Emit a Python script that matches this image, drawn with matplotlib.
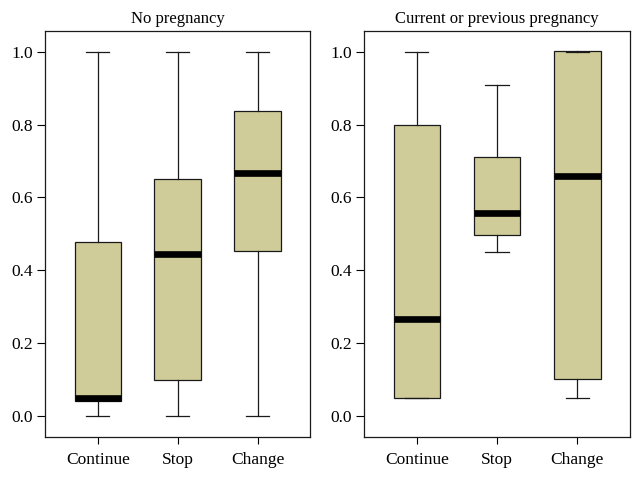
import numpy as np
import matplotlib
matplotlib.use('Agg')
import matplotlib.pyplot as plt

plt.rcParams['font.family'] = ['Liberation Serif', 'DejaVu Serif']
plt.rcParams['font.size'] = 12

categories = ['Continue', 'Stop', 'Change']

# five-number summaries: whisker low, q1, median, q3, whisker high
no_preg_lo = [0.0, 0.0, 0.0]
no_preg_q1 = [0.04, 0.10, 0.452]
no_preg_med = [0.05, 0.446, 0.668]
no_preg_q3 = [0.477, 0.651, 0.836]
no_preg_hi = [1.0, 1.0, 1.0]

preg_lo = [0.049, 0.45, 0.049]
preg_q1 = [0.05, 0.498, 0.102]
preg_med = [0.267, 0.558, 0.658]
preg_q3 = [0.80, 0.711, 1.003]
preg_hi = [1.0, 0.909, 1.0]

titles = ['No pregnancy', 'Current or previous pregnancy']
fill = '#CFCC99'


def make_stats(lo, q1, med, q3, hi):
    stats = []
    for i in range(len(categories)):
        stats.append(dict(whislo=lo[i], q1=q1[i], med=med[i], q3=q3[i],
                          whishi=hi[i], fliers=[], label=categories[i]))
    return stats


fig = plt.figure(figsize=(6.41, 4.79), dpi=100)
ax1 = fig.add_axes([0.0707, 0.0883, 0.413, 0.847])
ax2 = fig.add_axes([0.5683, 0.0883, 0.4145, 0.847])

panels = [
    (ax1, make_stats(no_preg_lo, no_preg_q1, no_preg_med, no_preg_q3, no_preg_hi)),
    (ax2, make_stats(preg_lo, preg_q1, preg_med, preg_q3, preg_hi)),
]

for (ax, stats), title in zip(panels, titles):
    ax.bxp(stats, positions=[1, 2, 3], widths=0.58, patch_artist=True,
           showfliers=False,
           boxprops=dict(facecolor=fill, edgecolor='#1a1a1a', linewidth=0.9),
           medianprops=dict(color='black', linewidth=4.8, solid_capstyle='butt'),
           whiskerprops=dict(color='#1a1a1a', linewidth=0.9),
           capprops=dict(color='#1a1a1a', linewidth=0.9),
           capwidths=0.29)
    ax.set_xlim(0.345, 3.655)
    ax.set_ylim(-0.057, 1.057)
    ax.set_yticks([0.0, 0.2, 0.4, 0.6, 0.8, 1.0])
    ax.set_yticklabels(['0.0', '0.2', '0.4', '0.6', '0.8', '1.0'])
    ax.set_xticks([1, 2, 3])
    ax.set_xticklabels(categories, fontsize=12.5)
    ax.tick_params(axis='y', length=5.5, width=0.8, pad=3.5, labelsize=12.5)
    ax.tick_params(axis='x', length=5, width=0.8, pad=6)
    for sp in ax.spines.values():
        sp.set_linewidth(0.9)
        sp.set_color('#1a1a1a')
    ax.set_title(title, fontsize=12, pad=6)

fig.savefig('out.png', dpi=100)
